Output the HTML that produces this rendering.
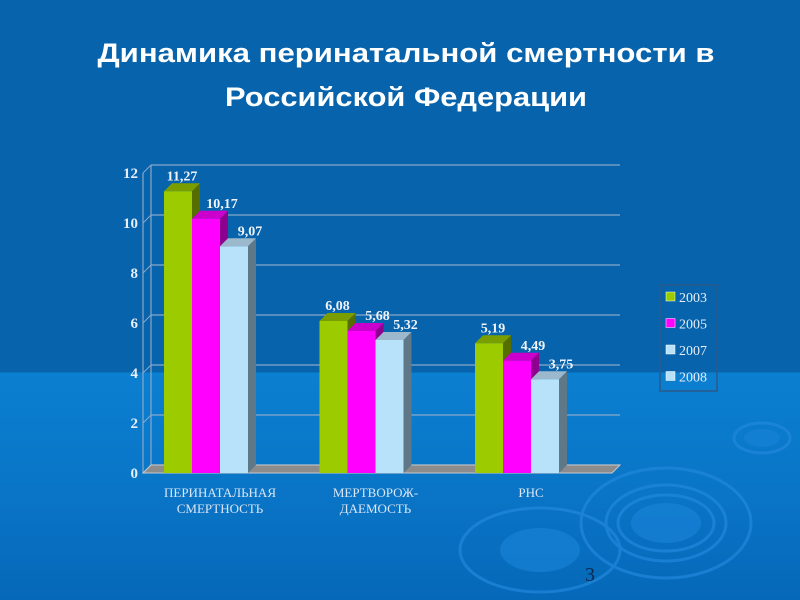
<!DOCTYPE html>
<html><head><meta charset="utf-8"><style>
html,body{margin:0;padding:0;width:800px;height:600px;overflow:hidden}
body{background:linear-gradient(#0663AC 0,#0663AC 372px,#0B7FD0 373px,#0A76C8 480px,#0668B8 600px)}
</style></head><body>
<svg width="800" height="600" xmlns="http://www.w3.org/2000/svg">
<g fill="none" stroke="#2288dc" stroke-width="3" opacity="0.7">
<ellipse cx="666" cy="523" rx="85" ry="55"/><ellipse cx="666" cy="523" rx="60" ry="38"/><ellipse cx="666" cy="523" rx="48" ry="28"/>
<ellipse cx="540" cy="550" rx="80" ry="42"/><ellipse cx="540" cy="550" rx="40" ry="22" fill="#1882d6" stroke="none"/>
<ellipse cx="762" cy="438" rx="28" ry="15"/><ellipse cx="762" cy="438" rx="18" ry="9" fill="#1882d6" stroke="none"/>
<ellipse cx="666" cy="523" rx="35" ry="20" fill="#1882d6" stroke="none"/>
</g>
<text x="406" y="62" text-anchor="middle" font-family="Liberation Sans, sans-serif" font-weight="bold" font-size="27" fill="#fff" textLength="617" lengthAdjust="spacingAndGlyphs">Динамика перинатальной смертности в</text>
<text x="406" y="106" text-anchor="middle" font-family="Liberation Sans, sans-serif" font-weight="bold" font-size="27" fill="#fff" textLength="362" lengthAdjust="spacingAndGlyphs">Российской Федерации</text>
<g id="chart"></g>
<text x="590" y="581" text-anchor="middle" font-family="Liberation Serif, serif" font-size="20" fill="#0a2a50">3</text>
</svg>
<script>
const categories=[["ПЕРИНАТАЛЬНАЯ","СМЕРТНОСТЬ"],["МЕРТВОРОЖ-","ДАЕМОСТЬ"],["РНС",""]];
const series=["2003","2005","2007","2008"];
const v2003=[11.27,6.08,5.19];
const v2005=[10.17,5.68,4.49];
const v2007=[9.07,5.32,3.75];
const yTicks=[0,2,4,6,8,10,12];
const NS="http://www.w3.org/2000/svg";
const g=document.getElementById('chart');
function mk(t,a,p){const e=document.createElementNS(NS,t);for(const k in a)e.setAttribute(k,a[k]);(p||g).appendChild(e);return e;}
const y0=473,ppu=25,dx=8,dy=8,xL=143,xR=612;
const Y=v=>y0-v*ppu;
const groupX=i=>164+i*155.5;
const bw=28;
yTicks.forEach(t=>{
 const l=mk('line',{x1:xL+dx,y1:Y(t)-dy,x2:xR+dx,y2:Y(t)-dy,stroke:'#8aa8c8','stroke-width':1.2});
 
 const d=mk('line',{x1:xL,y1:Y(t),x2:xL+dx,y2:Y(t)-dy,stroke:'#8aa8c8','stroke-width':1});
 
 const tx=mk('text',{x:xL-5,y:Y(t)+5,'text-anchor':'end','font-family':'Liberation Serif, serif','font-weight':'bold','font-size':15,fill:'#e8eef8'});
 tx.textContent=t;
});
const wall=mk('line',{x1:xL+dx,y1:Y(12)-dy,x2:xL+dx,y2:y0-dy,stroke:'#8aa8c8','stroke-width':1.2});

const ax=mk('line',{x1:xL,y1:Y(12),x2:xL,y2:y0,stroke:'#8aa8c8','stroke-width':1.2});

const fl=mk('polygon',{points:`${xL},${y0} ${xR},${y0} ${xR+dx},${y0-dy} ${xL+dx},${y0-dy}`,fill:'#8c8c8c',stroke:'#c8c8c8','stroke-width':1});

const cols=[["#9ccc00","#7a9e00","#566e00"],["#ff00ff","#cc00cc","#8e008e"],["#b8e2fa","#9cb8cc","#5e7888"]];
const vals=[v2003,v2005,v2007];
categories.forEach((c,i)=>{
 vals.forEach((vs,s)=>{
  const x=groupX(i)+s*bw,v=vs[i],y=Y(v);
  const side=mk('polygon',{points:`${x+bw},${y} ${x+bw+dx},${y-dy} ${x+bw+dx},${y0-dy} ${x+bw},${y0}`,fill:cols[s][2]});
  
  const top=mk('polygon',{points:`${x},${y} ${x+dx},${y-dy} ${x+bw+dx},${y-dy} ${x+bw},${y}`,fill:cols[s][1]});
  
  const r=mk('rect',{x:x,y:y,width:bw,height:y0-y,fill:cols[s][0]});
  
  const t=mk('text',{x:x+bw/2+(s?16:4),y:y-dy-3,'text-anchor':'middle','font-family':'Liberation Serif, serif','font-weight':'bold','font-size':14,fill:'#f0f4fa'});
  t.textContent=v.toFixed(2).replace('.',',');
 });
 c.forEach((ln,k)=>{
  const t=mk('text',{x:groupX(i)+56,y:497+k*16,'text-anchor':'middle','font-family':'Liberation Serif, serif','font-size':13,fill:'#dce6f4'});
  t.textContent=ln;
 });
});
const lg=mk('g',{});
mk('rect',{x:660,y:285,width:57,height:106,fill:'none',stroke:'#2a5a8a','stroke-width':1.5},lg);
const lc=["#9ccc00","#ff00ff","#b8e2fa","#b8e2fa"];
series.forEach((s,i)=>{
 const e=mk('g',{},lg);
 mk('rect',{x:666,y:292+i*26.5,width:9,height:9,fill:lc[i],stroke:'#fff','stroke-width':.5},e);
 const t=mk('text',{x:679,y:302+i*26.5,'font-family':'Liberation Serif, serif','font-size':14,fill:'#e8eef8'},e);t.textContent=s;
});
</script>
</body></html>
